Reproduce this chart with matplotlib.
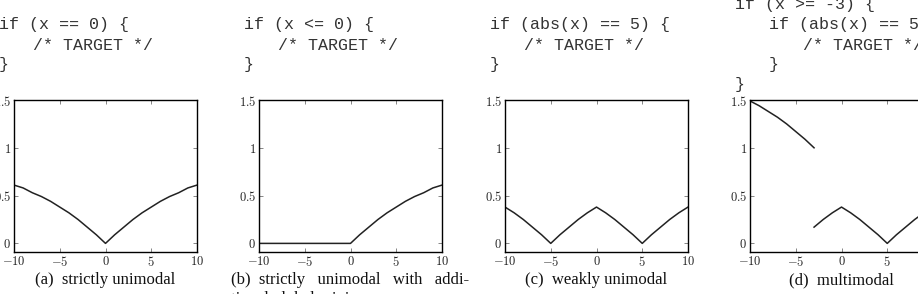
import numpy as np
import matplotlib
matplotlib.use("Agg")
import matplotlib.pyplot as plt

plt.rcParams['mathtext.fontset'] = 'cm'

# x positions shared by all panels
x = np.arange(-10, 11)

# fitness landscape values (x = -10 .. 10)
fit_a = [0.61, 0.58, 0.53, 0.49, 0.44, 0.38, 0.32, 0.25, 0.17, 0.09, 0.0,
         0.09, 0.17, 0.25, 0.32, 0.38, 0.44, 0.49, 0.53, 0.58, 0.61]
fit_b = [0.0, 0.0, 0.0, 0.0, 0.0, 0.0, 0.0, 0.0, 0.0, 0.0, 0.0,
         0.09, 0.17, 0.25, 0.32, 0.38, 0.44, 0.49, 0.53, 0.58, 0.61]
fit_c = [0.38, 0.32, 0.25, 0.17, 0.09, 0.0, 0.09, 0.17, 0.25, 0.32, 0.38,
         0.32, 0.25, 0.17, 0.09, 0.0, 0.09, 0.17, 0.25, 0.32, 0.38]
# panel (d) is discontinuous at x = -3
x_d_left = np.arange(-10, -2)
fit_d_left = [1.49, 1.44, 1.38, 1.32, 1.25, 1.17, 1.09, 1.0]
x_d_right = np.arange(-3, 11)
fit_d_right = [0.17, 0.25, 0.32, 0.38, 0.32, 0.25, 0.17, 0.09, 0.0,
               0.09, 0.17, 0.25, 0.32, 0.38]

xticks = [-10, -5, 0, 5, 10]
xtick_labels = [r'$-10$', r'$-5$', r'$0$', r'$5$', r'$10$']
yticks = [0, 0.5, 1, 1.5]
ytick_labels = [r'$0$', r'$0.5$', r'$1$', r'$1.5$']

code = [
    [(0, "if (x == 0) {"), (1, "/* TARGET */"), (0, "}")],
    [(0, "if (x <= 0) {"), (1, "/* TARGET */"), (0, "}")],
    [(0, "if (abs(x) == 5) {"), (1, "/* TARGET */"), (0, "}")],
    [(0, "if (x >= -3) {"), (1, "if (abs(x) == 5) {"), (2, "/* TARGET */"),
     (1, "}"), (0, "}")],
]
captions = ["(a)  strictly unimodal",
            "(b)  strictly   unimodal   with   addi-",
            "(c)  weakly unimodal",
            "(d)  multimodal"]

W, H = 918, 294
fig = plt.figure(figsize=(W / 100, H / 100), dpi=100)

lefts = [14, 259, 505, 750]
ax_w, ax_top, ax_bot = 183, 100, 252


def ftext(px, py, s, **kw):
    fig.text(px / W, 1 - py / H, s, **kw)


axes = []
for i, left in enumerate(lefts):
    ax = fig.add_axes([left / W, 1 - ax_bot / H, ax_w / W, (ax_bot - ax_top) / H])
    ax.set_xlim(-10, 10)
    ax.set_ylim(-0.09, 1.5)
    ax.set_xticks(xticks, xtick_labels)
    ax.set_yticks(yticks, ytick_labels)
    ax.tick_params(direction='in', top=True, right=True, length=3,
                   width=0.5, labelsize=9, pad=2, color='#555555',
                   labelcolor='#222222')
    for sp in ax.spines.values():
        sp.set_linewidth(1.0)
    axes.append(ax)

    # code snippet above each panel
    first_y = 25 if len(code[i]) == 3 else 5
    for j, (lvl, line) in enumerate(code[i]):
        ftext(left - 15 + lvl * 34, first_y + j * 20, line,
              family='Liberation Mono', fontsize=12, va='center',
              ha='left', color='#333333')

lw = 1.1
axes[0].plot(x, fit_a, color='#222222', lw=lw)
axes[1].plot(x, fit_b, color='#222222', lw=lw)
axes[2].plot(x, fit_c, color='#222222', lw=lw)
axes[3].plot(x_d_left, fit_d_left, color='#222222', lw=lw)
axes[3].plot(x_d_right, fit_d_right, color='#222222', lw=lw)

# captions
cap_kw = dict(family='Liberation Serif', fontsize=12, va='center', color='#111111')
ftext(lefts[0] + ax_w / 2, 280, captions[0], ha='center', **cap_kw)
ftext(231, 280, captions[1], ha='left', **cap_kw)
ftext(231, 299, "tional global minimum", ha='left', **cap_kw)
ftext(lefts[2] + ax_w / 2, 280, captions[2], ha='center', **cap_kw)
ftext(lefts[3] + ax_w / 2, 280, captions[3], ha='center', **cap_kw)

fig.savefig("out.png", dpi=100)
